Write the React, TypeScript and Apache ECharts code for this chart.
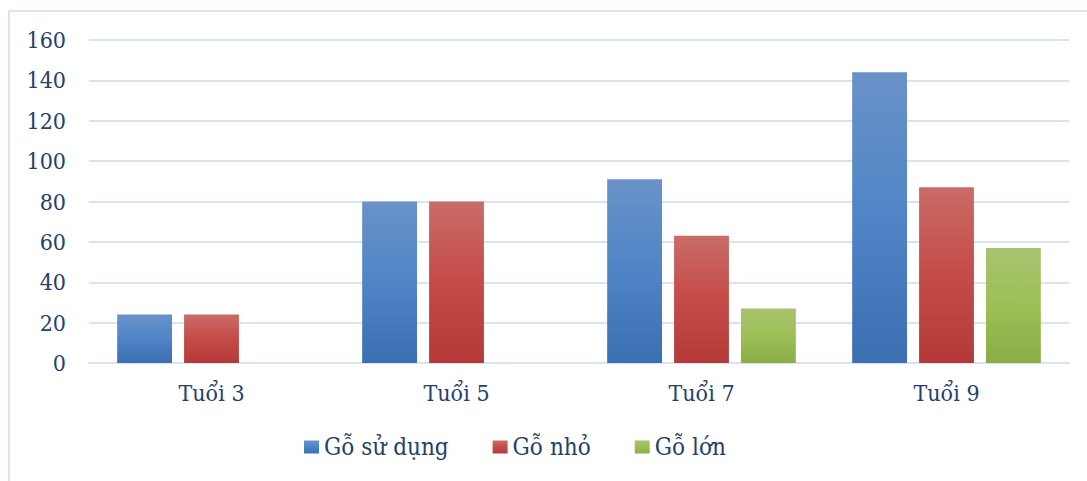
import React, { useEffect, useRef } from "react";
import * as echarts from "echarts";

const categories = ["Tuổi 3", "Tuổi 5", "Tuổi 7", "Tuổi 9"];
const seriesNames = ["Gỗ sử dụng", "Gỗ nhỏ", "Gỗ lớn"];
const goSuDung = [24, 80, 91, 144];
const goNho = [24, 80, 63, 87];
const goLon = [0, 0, 27, 57];
const yTicks = { min: 0, max: 160, interval: 20 };

const grad = (top: string, mid: string, bottom: string) =>
  new echarts.graphic.LinearGradient(0, 0, 0, 1, [
    { offset: 0, color: top },
    { offset: 0.5, color: mid },
    { offset: 1, color: bottom },
  ]);

export default function App() {
  const ref = useRef<HTMLDivElement>(null);
  useEffect(() => {
    document.body.style.margin = "0";
    const chart = echarts.init(ref.current!, null, { renderer: "svg" });
    const textColor = "#24406c";
    const font = "DejaVu Serif Condensed";
    const colors = [
      grad("#6a92c9", "#4f85c6", "#3a6fb1"),
      grad("#c96c68", "#c44b47", "#b43a38"),
      grad("#a8c370", "#9dbf56", "#8aac45"),
    ];
    const values = [goSuDung, goNho, goLon];
    chart.setOption({
      animation: false,
      backgroundColor: "#ffffff",
      textStyle: { fontFamily: font },
      graphic: [
        {
          type: "rect",
          shape: { x: 9, y: 11, width: 1200, height: 600 },
          style: { fill: "none", stroke: "#d9e3f1", lineWidth: 2 },
          silent: true,
        },
      ],
      grid: { left: 89, right: 18, top: 40, bottom: 118, containLabel: false },
      legend: {
        left: 304,
        top: 435,
        padding: 0,
        itemWidth: 15,
        itemHeight: 13,
        itemGap: 44,
        icon: "rect",
        textStyle: { color: textColor, fontSize: 24, fontFamily: font },
        data: seriesNames,
      },
      xAxis: {
        type: "category",
        data: categories,
        axisLine: { show: true, lineStyle: { color: "#d9e3f1", width: 2 } },
        axisTick: { show: false },
        axisLabel: { color: textColor, fontSize: 23, fontFamily: font, margin: 18 },
      },
      yAxis: {
        type: "value",
        min: yTicks.min,
        max: yTicks.max,
        interval: yTicks.interval,
        axisLine: { show: false },
        axisTick: { show: false },
        axisLabel: { color: textColor, fontSize: 23, fontFamily: font, margin: 23 },
        splitLine: { lineStyle: { color: "#d9e3f1", width: 2 } },
      },
      series: seriesNames.map((name, i) => ({
        name,
        type: "bar",
        data: values[i],
        barGap: "22%",
        barCategoryGap: "23%",
        itemStyle: { color: colors[i] },
      })),
    });
    return () => chart.dispose();
  }, []);
  return (
    <div
      ref={ref}
      style={{ position: "absolute", left: 0, top: 0, width: 1087, height: 481 }}
    />
  );
}
